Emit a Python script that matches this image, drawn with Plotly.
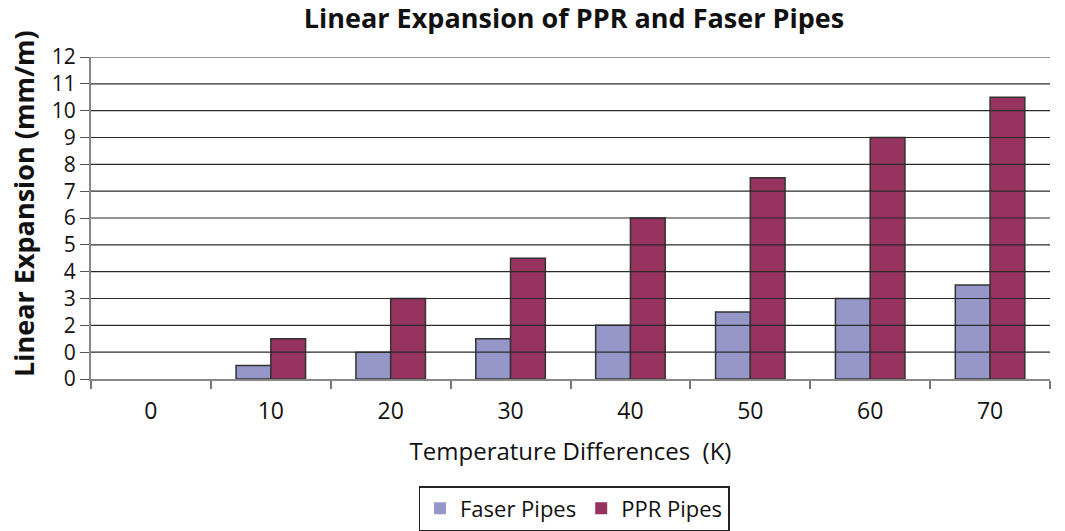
import plotly.graph_objects as go

categories = ["0", "10", "20", "30", "40", "50", "60", "70"]
faser = [0, 0.5, 1, 1.5, 2, 2.5, 3, 3.5]
ppr = [0, 1.5, 3, 4.5, 6, 7.5, 9, 10.5]
y_tickvals = list(range(0, 13))
y_ticktext = ["0", "0", "2", "3", "4", "5", "6", "7", "8", "9", "10", "11", "12"]

FONT = "Open Sans, Noto Sans, sans-serif"


def outline_widths(vals):
    return [0 if v == 0 else 1.5 for v in vals]


fig = go.Figure()
fig.add_trace(go.Bar(x=categories, y=faser, name="Faser Pipes",
                     marker=dict(color="#9597C9",
                                 line=dict(color="#333333", width=outline_widths(faser)))))
fig.add_trace(go.Bar(x=categories, y=ppr, name="PPR Pipes",
                     marker=dict(color="#96335F",
                                 line=dict(color="#333333", width=outline_widths(ppr)))))

for v in y_tickvals[1:]:
    fig.add_shape(type="line", xref="paper", x0=0, x1=1, yref="y", y0=v, y1=v,
                  line=dict(color="#2a2a2a", width=1.2), layer="above")

# y-axis title as rotated annotation
fig.add_annotation(text="<b>Linear Expansion (mm/m)</b>", textangle=-90,
                   xref="paper", x=(23 - 91) / 959, xanchor="center",
                   yref="paper", y=(379 - 204) / 322, yanchor="middle",
                   showarrow=False, font=dict(size=27, family=FONT, color="#111111"))

fig.update_layout(
    width=1065, height=531,
    margin=dict(l=91, r=15, t=57, b=152),
    paper_bgcolor="white", plot_bgcolor="white",
    barmode="group", bargap=0.42, bargroupgap=0,
    title=dict(text="<b>Linear Expansion of PPR and Faser Pipes</b>",
               x=574 / 1065, xanchor="center",
               yref="container", y=1 - 19 / 531, yanchor="middle",
               font=dict(family=FONT, size=27, color="#111111")),
    font=dict(family=FONT, color="#111111"),
    xaxis=dict(
        type="category", tickson="boundaries", ticks="outside", ticklen=8,
        tickcolor="#777777", tickwidth=2, ticklabelstandoff=10,
        showline=True, linecolor="#888888", linewidth=2,
        showgrid=False, automargin=False, tickfont=dict(size=23, family=FONT),
        title=dict(text="Temperature Differences  (K)", font=dict(size=24, family=FONT), standoff=19),
    ),
    yaxis=dict(
        range=[0, 12], tickvals=y_tickvals, ticktext=y_ticktext,
        ticks="outside", ticklen=9, tickcolor="#555555",
        showline=True, linecolor="#888888", linewidth=2,
        showgrid=False, zeroline=False, automargin=False, tickfont=dict(size=21, family=FONT),
    ),
    legend=dict(orientation="h", x=(574 - 91) / 959, xref="paper", xanchor="center",
                yref="container", y=1 - 486 / 531, yanchor="top",
                bordercolor="#222222", borderwidth=1.5,
                font=dict(size=22, family=FONT), itemwidth=30),
)

fig.write_html("out.html", post_script="document.body.style.margin='0';",
               config={"displayModeBar": False})
